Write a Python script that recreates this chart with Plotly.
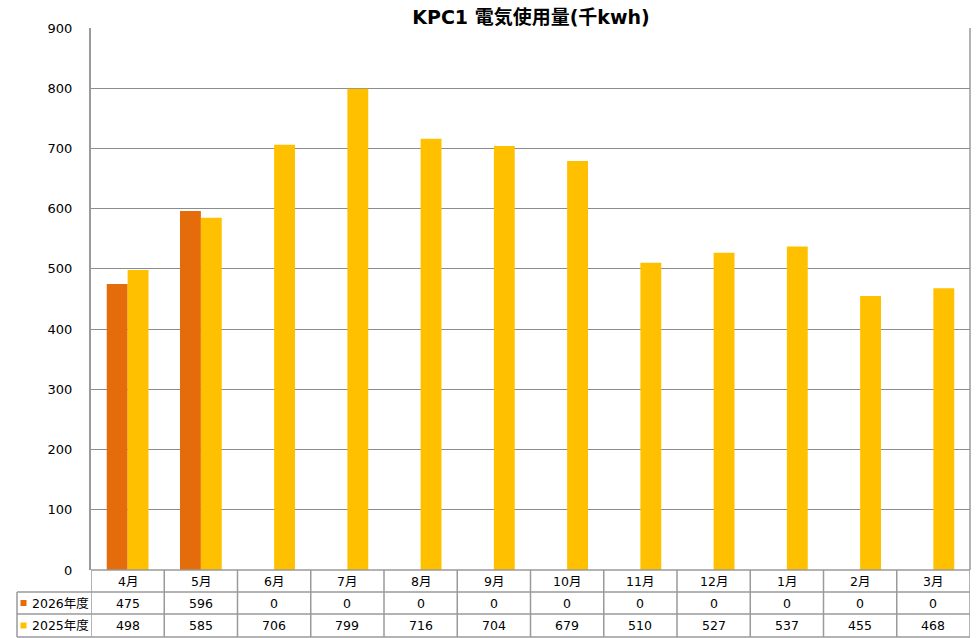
import plotly.graph_objects as go

months = ["4月", "5月", "6月", "7月", "8月", "9月", "10月", "11月", "12月", "1月", "2月", "3月"]
series_names = ["2026年度", "2025年度"]
values_2026 = [475, 596, 0, 0, 0, 0, 0, 0, 0, 0, 0, 0]
values_2025 = [498, 585, 706, 799, 716, 704, 679, 510, 527, 537, 455, 468]
colors = ["#E46C0A", "#FFC000"]
title = "KPC1 電気使用量(千kwh)"
y_ticks = [0, 100, 200, 300, 400, 500, 600, 700, 800, 900]

W, H = 976, 638
FONT = "DejaVu Sans, Noto Sans CJK JP, sans-serif"
GRID = "#8c8c8c"

def py(p):
    return 1 - p / H

def px(p):
    return p / W

x_idx = list(range(len(months)))

fig = go.Figure()
for name, vals, col in zip(series_names, [values_2026, values_2025], colors):
    fig.add_trace(go.Bar(x=x_idx, y=vals, name=name, marker=dict(color=col, line=dict(width=0)),
                         showlegend=False, hoverinfo="skip"))

fig.update_layout(
    width=W, height=H,
    margin=dict(l=0, r=0, t=0, b=0, pad=0, autoexpand=False),
    paper_bgcolor="white", plot_bgcolor="white",
    barmode="group", bargap=0.43, bargroupgap=0,
    font=dict(family=FONT, color="black"),
    showlegend=False,
    title=dict(text="<b>" + title + "</b>", x=px(531), xanchor="center", y=py(17), yanchor="middle",
               automargin=False, font=dict(size=19, family=FONT, color="black")),
    xaxis=dict(domain=[px(91), px(970)], range=[-0.5, len(months) - 0.5], showticklabels=False,
               showgrid=False, zeroline=False, showline=False, fixedrange=True, automargin=False),
    yaxis=dict(domain=[py(570), py(28)], range=[0, 900], tickvals=y_ticks, showgrid=True,
               gridcolor=GRID, gridwidth=1.3, zeroline=False, showline=True, linecolor="#9a9a9a",
               linewidth=2, ticks="", ticklabelstandoff=14, automargin=False, fixedrange=True,
               tickfont=dict(size=13, family=FONT, color="black")),
)

shapes = []
line = dict(color="#9a9a9a", width=1.5)
# right border of plot area
shapes.append(dict(type="line", xref="paper", yref="paper", x0=px(970), x1=px(970), y0=py(28), y1=py(570), line=line))
# table horizontal lines
shapes.append(dict(type="line", xref="paper", yref="paper", x0=px(91), x1=px(970), y0=py(570), y1=py(570), line=line))
for yy in [592, 614, 637]:
    shapes.append(dict(type="line", xref="paper", yref="paper", x0=px(17), x1=px(970), y0=py(yy), y1=py(yy), line=line))
# table vertical lines
shapes.append(dict(type="line", xref="paper", yref="paper", x0=px(17), x1=px(17), y0=py(592), y1=py(637), line=line))
for i in range(len(months) + 1):
    shapes.append(dict(type="line", xref="x", yref="paper", x0=i - 0.5, x1=i - 0.5, y0=py(570), y1=py(637), line=line))
# legend keys
for yy, col in zip([603, 625.5], colors):
    shapes.append(dict(type="rect", xref="paper", yref="paper", x0=px(20.5), x1=px(26.5), y0=py(yy - 3), y1=py(yy + 3),
                       fillcolor=col, line=dict(width=0)))
fig.update_layout(shapes=shapes)

ann = []
tf = dict(size=12.5, family=FONT, color="black")
common = dict(showarrow=False, xanchor="center", yanchor="middle", font=tf)
for i, m in enumerate(months):
    ann.append(dict(x=i, y=py(581), xref="x", yref="paper", text=m, **common))
    ann.append(dict(x=i, y=py(603), xref="x", yref="paper", text=str(values_2026[i]), **common))
    ann.append(dict(x=i, y=py(625.5), xref="x", yref="paper", text=str(values_2025[i]), **common))
for yy, nm in zip([603, 625.5], series_names):
    ann.append(dict(x=px(29.5), y=py(yy), xref="paper", yref="paper", text=nm, showarrow=False,
                    xanchor="left", yanchor="middle", font=tf))
fig.update_layout(annotations=ann)

fig.write_html("out.html")
